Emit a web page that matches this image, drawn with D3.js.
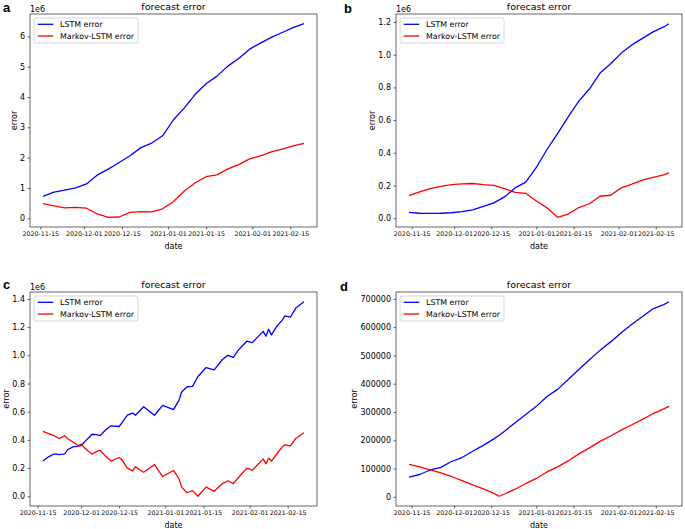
<!DOCTYPE html>
<html>
<head>
<meta charset="utf-8">
<script src="https://cdn.jsdelivr.net/npm/d3@7"></script>
<style>
  body { margin: 0; background: #fff; }
  svg { display: block; font-family: "DejaVu Sans", sans-serif; }
</style>
</head>
<body>
<div id="chart"></div>
<script>
const xTickDates = ["2020-11-15", "2020-12-01", "2020-12-15", "2021-01-01", "2021-01-15", "2021-02-01", "2021-02-15"];
const seriesNames = ["LSTM error", "Markov-LSTM error"];

// panel a, values in 1e6
const datesA = ["2020-11-16", "2020-11-20", "2020-11-24", "2020-11-28", "2020-12-02", "2020-12-06", "2020-12-10",
  "2020-12-14", "2020-12-18", "2020-12-22", "2020-12-26", "2020-12-30", "2021-01-03", "2021-01-07", "2021-01-11",
  "2021-01-15", "2021-01-19", "2021-01-23", "2021-01-27", "2021-01-31", "2021-02-04", "2021-02-08", "2021-02-12",
  "2021-02-16", "2021-02-20"];
const lstmA = [0.72, 0.86, 0.93, 1.0, 1.13, 1.43, 1.62, 1.84, 2.06, 2.33, 2.48, 2.72, 3.25, 3.64, 4.09,
  4.44, 4.69, 5.02, 5.27, 5.58, 5.78, 5.97, 6.13, 6.29, 6.42];
const markovA = [0.48, 0.41, 0.34, 0.36, 0.33, 0.14, 0.03, 0.04, 0.19, 0.22, 0.21, 0.31, 0.55, 0.9, 1.17,
  1.37, 1.43, 1.63, 1.77, 1.96, 2.06, 2.19, 2.28, 2.39, 2.47];
const yTicksA = [0, 1, 2, 3, 4, 5, 6];

// panel b, values in 1e6
const datesB = ["2020-11-14", "2020-11-18", "2020-11-22", "2020-11-26", "2020-11-30", "2020-12-04", "2020-12-08",
  "2020-12-12", "2020-12-16", "2020-12-20", "2020-12-24", "2020-12-28", "2021-01-01", "2021-01-05", "2021-01-09",
  "2021-01-13", "2021-01-17", "2021-01-21", "2021-01-25", "2021-01-29", "2021-02-02", "2021-02-06", "2021-02-10",
  "2021-02-14", "2021-02-18", "2021-02-20"];
const lstmB = [0.035, 0.03, 0.029, 0.03, 0.033, 0.04, 0.05, 0.072, 0.093, 0.13, 0.185, 0.22, 0.31, 0.42, 0.517,
  0.62, 0.716, 0.79, 0.888, 0.945, 1.01, 1.06, 1.10, 1.14, 1.17, 1.19];
const markovB = [0.138, 0.16, 0.18, 0.195, 0.205, 0.21, 0.212, 0.205, 0.2, 0.18, 0.158, 0.152, 0.105, 0.063, 0.005,
  0.025, 0.065, 0.088, 0.134, 0.14, 0.185, 0.208, 0.233, 0.25, 0.265, 0.277];
const yTicksB = [0, 0.2, 0.4, 0.6, 0.8, 1.0, 1.2];

// panel c, values in 1e6
const datesC = ["2020-11-17", "2020-11-19", "2020-11-21", "2020-11-23", "2020-11-25", "2020-11-26", "2020-11-28",
  "2020-11-30", "2020-12-01", "2020-12-03", "2020-12-05", "2020-12-07", "2020-12-08", "2020-12-10", "2020-12-12",
  "2020-12-15", "2020-12-16", "2020-12-18", "2020-12-20", "2020-12-21", "2020-12-24", "2020-12-28", "2020-12-31",
  "2021-01-04", "2021-01-06", "2021-01-07", "2021-01-09", "2021-01-11", "2021-01-13", "2021-01-16", "2021-01-19",
  "2021-01-22", "2021-01-24", "2021-01-26", "2021-01-28", "2021-01-31", "2021-02-02", "2021-02-06", "2021-02-07",
  "2021-02-08", "2021-02-09", "2021-02-11", "2021-02-13", "2021-02-14", "2021-02-16", "2021-02-18", "2021-02-21"];
const lstmC = [0.25, 0.28, 0.30, 0.295, 0.30, 0.33, 0.35, 0.355, 0.36, 0.40, 0.44, 0.435, 0.43, 0.47, 0.50,
  0.495, 0.52, 0.575, 0.59, 0.575, 0.635, 0.575, 0.645, 0.615, 0.68, 0.74, 0.777, 0.78, 0.85, 0.913, 0.897,
  0.97, 1.0, 0.985, 1.04, 1.10, 1.09, 1.17, 1.135, 1.185, 1.145, 1.205, 1.25, 1.28, 1.27, 1.335, 1.38];
const markovC = [0.46, 0.445, 0.43, 0.41, 0.43, 0.41, 0.385, 0.36, 0.37, 0.33, 0.30, 0.32, 0.325, 0.285, 0.25,
  0.275, 0.26, 0.20, 0.18, 0.21, 0.17, 0.225, 0.14, 0.183, 0.125, 0.065, 0.025, 0.04, 0.0, 0.065, 0.035,
  0.09, 0.11, 0.09, 0.135, 0.2, 0.185, 0.265, 0.23, 0.27, 0.25, 0.30, 0.35, 0.365, 0.357, 0.41, 0.45];
const yTicksC = [0, 0.2, 0.4, 0.6, 0.8, 1.0, 1.2, 1.4];

// panel d, absolute values
const datesD = ["2020-11-14", "2020-11-18", "2020-11-22", "2020-11-26", "2020-11-30", "2020-12-04", "2020-12-08",
  "2020-12-12", "2020-12-16", "2020-12-18", "2020-12-20", "2020-12-24", "2020-12-28", "2021-01-01", "2021-01-05",
  "2021-01-09", "2021-01-13", "2021-01-17", "2021-01-21", "2021-01-25", "2021-01-29", "2021-02-02", "2021-02-06",
  "2021-02-10", "2021-02-14", "2021-02-18", "2021-02-20"];
const lstmD = [70000, 79000, 95000, 104000, 125000, 139000, 161000, 182000, 205000, 218000, 232000, 262000, 291000,
  320000, 355000, 380000, 415000, 450000, 485000, 518000, 548000, 580000, 610000, 638000, 665000, 680000, 690000];
const markovD = [115000, 106000, 95000, 85000, 72000, 57000, 42000, 28000, 12000, 2000, 10000, 27000, 47000,
  65000, 88000, 106000, 127000, 152000, 173000, 196000, 215000, 236000, 255000, 274000, 294000, 311000, 320000];
const yTicksD = [0, 100000, 200000, 300000, 400000, 500000, 600000, 700000];

const width = 685, height = 529;
const colors = ["#0000ff", "#ff0000"];
const parse = d3.timeParse("%Y-%m-%d");

const svg = d3.select("#chart").append("svg")
  .attr("width", width)
  .attr("height", height);

const panels = [
  { letter: "a", lx: 3, ly: 12, box: [30, 14, 317, 227], dates: datesA, series: [lstmA, markovA], ticks: yTicksA, fmt: d3.format("d"), offset: "1e6" },
  { letter: "b", lx: 344, ly: 13, box: [396, 14, 682, 227], dates: datesB, series: [lstmB, markovB], ticks: yTicksB, fmt: d3.format(".1f"), offset: "1e6" },
  { letter: "c", lx: 3, ly: 289, box: [30, 292, 317, 506], dates: datesC, series: [lstmC, markovC], ticks: yTicksC, fmt: d3.format(".1f"), offset: "1e6" },
  { letter: "d", lx: 340, ly: 291, box: [396, 292, 682, 506], dates: datesD, series: [lstmD, markovD], ticks: yTicksD, fmt: d3.format("d"), offset: null }
];

// matplotlib style 5% padding
function pad(ext) {
  const m = (ext[1] - ext[0]) * 0.05;
  return [ext[0] - m, ext[1] + m];
}

panels.forEach(p => {
  const [x0, y0, x1, y1] = p.box;
  const dates = p.dates.map(parse);
  const all = p.series.flat();

  const tExt = d3.extent(dates).map(d => +d);
  const x = d3.scaleTime()
    .domain(pad(tExt).map(t => new Date(t)))
    .range([x0, x1]);
  const y = d3.scaleLinear()
    .domain(pad(d3.extent(all)))
    .range([y1, y0]);

  const g = svg.append("g");

  const line = d3.line()
    .x((d, i) => x(dates[i]))
    .y(d => y(d));

  p.series.forEach((s, i) => {
    g.append("path")
      .datum(s)
      .attr("fill", "none")
      .attr("stroke", colors[i])
      .attr("stroke-width", 1.3)
      .attr("stroke-linejoin", "round")
      .attr("d", line);
  });

  const xAxis = g.append("g")
    .attr("transform", `translate(0,${y1})`)
    .call(d3.axisBottom(x)
      .tickValues(xTickDates.map(parse))
      .tickFormat(d3.timeFormat("%Y-%m-%d"))
      .tickSize(2.5)
      .tickPadding(2));
  xAxis.select(".domain").remove();
  xAxis.selectAll("text").attr("font-size", 6.3).attr("fill", "#000").attr("font-family", "DejaVu Sans");
  xAxis.selectAll("line").attr("stroke-width", 0.6);

  const yAxis = g.append("g")
    .attr("transform", `translate(${x0},0)`)
    .call(d3.axisLeft(y)
      .tickValues(p.ticks)
      .tickFormat(p.fmt)
      .tickSize(2.5)
      .tickPadding(2.5));
  yAxis.select(".domain").remove();
  yAxis.selectAll("text").attr("font-size", 8).attr("fill", "#000").attr("font-family", "DejaVu Sans");
  yAxis.selectAll("line").attr("stroke-width", 0.6);

  g.append("rect")
    .attr("x", x0).attr("y", y0)
    .attr("width", x1 - x0).attr("height", y1 - y0)
    .attr("fill", "none")
    .attr("stroke", "#000")
    .attr("stroke-width", 0.6);

  if (p.offset) {
    g.append("text")
      .attr("x", x0).attr("y", y0 - 2.5)
      .attr("font-size", 8)
      .text(p.offset);
  }

  g.append("text")
    .attr("x", (x0 + x1) / 2).attr("y", y0 - 4.5)
    .attr("text-anchor", "middle")
    .attr("font-size", 9.5)
    .text("forecast error");

  g.append("text")
    .attr("x", (x0 + x1) / 2).attr("y", y1 + 21.5)
    .attr("text-anchor", "middle")
    .attr("font-size", 8)
    .text("date");

  const yb = yAxis.node().getBBox();
  g.append("text")
    .attr("transform", `translate(${x0 + yb.x - 3},${(y0 + y1) / 2}) rotate(-90)`)
    .attr("text-anchor", "middle")
    .attr("font-size", 8)
    .text("error");

  // legend
  const lg = g.append("g").attr("transform", `translate(${x0 + 4},${y0 + 4})`);
  lg.append("rect")
    .attr("width", 104).attr("height", 25).attr("rx", 2)
    .attr("fill", "#fff").attr("fill-opacity", 0.8)
    .attr("stroke", "#ccc").attr("stroke-width", 0.8);
  seriesNames.forEach((name, i) => {
    const ly = 6.3 + i * 11.7;
    lg.append("line")
      .attr("x1", 3.7).attr("x2", 19.3)
      .attr("y1", ly).attr("y2", ly)
      .attr("stroke", colors[i]).attr("stroke-width", 1.3);
    lg.append("text")
      .attr("x", 26).attr("y", ly + 2.8)
      .attr("font-size", 7.9)
      .text(name);
  });

  svg.append("text")
    .attr("x", p.lx).attr("y", p.ly)
    .attr("font-family", "Liberation Sans, Arial, sans-serif")
    .attr("font-weight", "bold")
    .attr("font-size", 13)
    .text(p.letter);
});
</script>
</body>
</html>
